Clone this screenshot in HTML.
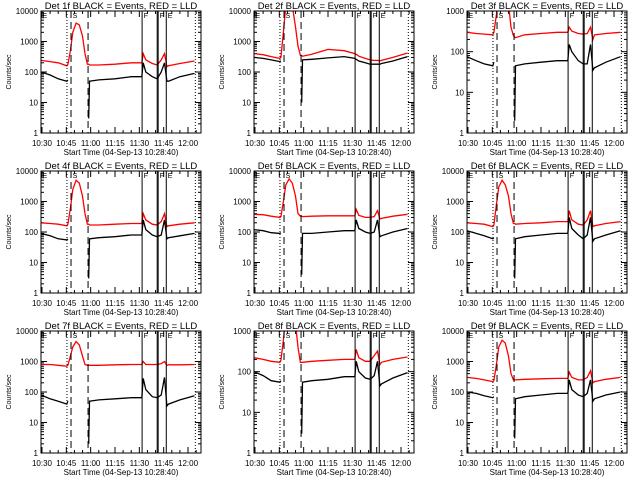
<!DOCTYPE html>
<html><head><meta charset="utf-8">
<style>
html,body{margin:0;padding:0;background:#fff;}
svg{display:block;font-family:"Liberation Sans",sans-serif;}
</style></head>
<body>
<svg id="chart" width="640" height="480" viewBox="0 0 640 480" xmlns="http://www.w3.org/2000/svg">
<rect x="0" y="0" width="640" height="480" fill="#ffffff"/>
</svg>
<script>
// time in minutes after 10:30
const times = [-0.6,5,10,15.3,16,17.5,19,21,23,25,26.5,28,28.8,29.3,35,45,55,61.5,62.4,64,68,71,73.5,75.5,77,78,85,94];
const panelTitles = ["Det 1f","Det 2f","Det 3f","Det 4f","Det 5f","Det 6f","Det 7f","Det 8f","Det 9f"];
const panelDecades = [4,4,3,4,4,4,4,3,4];
const N = null;
const blackSeries = [
 [100,80,60,50,55,N,N,N,N,N,N,N,3,50,55,60,70,70,200,100,70,60,100,200,50,50,70,90],
 [300,280,250,220,230,N,N,N,N,N,N,N,10,250,260,290,320,280,260,230,200,180,180,180,180,190,230,320],
 [75,60,50,45,55,N,N,N,N,N,N,N,2,45,50,55,60,60,150,100,60,50,50,150,35,40,55,75],
 [90,75,60,55,60,N,N,N,N,N,N,N,3,60,65,70,80,80,250,120,80,70,80,250,60,65,75,90],
 [120,110,95,90,95,N,N,N,N,N,N,N,4,90,90,100,110,110,250,130,100,90,100,250,70,75,100,130],
 [110,90,75,60,65,N,N,N,N,N,N,N,3,60,70,80,90,90,300,130,80,60,80,300,50,60,80,110],
 [80,60,50,40,50,N,N,N,N,N,N,N,2,50,55,60,65,65,280,120,70,65,80,300,35,40,55,75],
 [100,80,60,55,60,N,N,N,N,N,N,N,3,55,60,65,75,75,180,100,70,65,80,180,45,50,70,95],
 [100,90,75,65,70,N,N,N,N,N,N,N,3,60,70,80,90,90,250,120,80,70,90,250,50,60,80,100]
];
const redSeries = [
 [240,220,200,160,180,500,2000,4000,3500,1500,400,180,180,170,170,180,200,200,400,250,190,170,250,400,150,160,190,230],
 [400,370,320,280,300,2000,15000,20000,15000,3000,700,350,350,330,380,550,500,400,380,330,280,250,240,240,230,240,300,420],
 [300,280,270,260,300,800,3000,5000,4000,1500,400,250,230,220,260,280,300,300,400,320,280,270,280,400,200,260,280,300],
 [200,190,180,160,180,600,2500,5000,4000,1500,400,180,180,170,170,180,190,190,400,250,180,170,220,400,150,160,180,200],
 [380,370,330,300,320,1000,3500,5500,4000,1500,400,330,330,320,330,340,340,340,550,350,300,300,320,500,270,280,330,380],
 [200,190,180,150,170,800,3000,5000,3500,1500,400,190,190,180,190,200,220,220,500,250,180,170,250,500,150,160,190,220],
 [800,800,750,700,750,1500,3000,4500,3500,1500,800,750,750,750,750,780,800,800,1000,800,800,800,850,1000,750,780,780,800],
 [220,200,180,170,190,600,2500,5000,4000,1500,400,170,170,170,180,190,200,200,350,220,180,180,250,320,150,170,200,230],
 [300,280,250,220,240,800,3000,5000,4000,1500,400,250,250,250,260,270,280,280,450,300,250,250,300,500,200,220,260,300]
];
const xTickMinutes = [0,15,30,45,60,75,90];
const xTickLabels = ["10:30","10:45","11:00","11:15","11:30","11:45","12:00"];
const dottedLines = [15.4,94.5];
const dashedLines = [17.9,28.4];
const solidLines = [61.7,71,71.6,76.6];
const markerTimes = [-0.3,18.3,62.0,71.9,76.9];
const markerLabels = ["E","S","F","F","E"];

const svg = document.getElementById('chart');
const NS = 'http://www.w3.org/2000/svg';
function mk(tag, attrs, parent){
  const e = document.createElementNS(NS, tag);
  for (const k in attrs) e.setAttribute(k, attrs[k]);
  parent.appendChild(e);
  return e;
}
const PL=41, PR=201, PT=11, PB=133, XMIN=-0.6, XMAX=98;

for (let p=0;p<9;p++){
  const ox = (p%3)*213, oy = Math.floor(p/3)*160;
  const dec = panelDecades[p];
  const xs = t => ox + PL + (t - XMIN)/(XMAX - XMIN)*(PR-PL);
  const ys = v => oy + PB - Math.log10(v)/dec*(PB-PT);
  const g = mk('g',{},svg);
  
  
  const cid = 'clip'+p;
  const cp = mk('clipPath',{id:cid},g);
  mk('rect',{x:ox+PL,y:oy+PT,width:PR-PL,height:PB-PT},cp);

  const tt = mk('text',{x:ox+121,y:oy+9,'font-size':9.5,'text-anchor':'middle',fill:'#000'},g);
  tt.textContent = panelTitles[p]+" BLACK = Events, RED = LLD";
  
  

  for (let d=0; d<=dec; d++){
    const y = ys(Math.pow(10,d));
    const lb = mk('text',{x:ox+PL-3,y:y+3,'font-size':8,'text-anchor':'end',fill:'#000'},g);
    lb.textContent = String(Math.pow(10,d));
    
    
    mk('line',{x1:ox+PL,x2:ox+PL+6,y1:y,y2:y,stroke:'#000','stroke-width':1},g);
    mk('line',{x1:ox+PR,x2:ox+PR-6,y1:y,y2:y,stroke:'#000','stroke-width':1},g);
    if (d<dec){
      for (let m=2;m<10;m++){
        const ym = ys(m*Math.pow(10,d));
        mk('line',{x1:ox+PL,x2:ox+PL+3,y1:ym,y2:ym,stroke:'#000','stroke-width':1},g);
        mk('line',{x1:ox+PR,x2:ox+PR-3,y1:ym,y2:ym,stroke:'#000','stroke-width':1},g);
      }
    }
  }
  xTickMinutes.forEach((t,i)=>{
    const x = xs(t);
    mk('line',{x1:x,x2:x,y1:oy+PB,y2:oy+PB-6,stroke:'#000','stroke-width':1},g);
    mk('line',{x1:x,x2:x,y1:oy+PT,y2:oy+PT+6,stroke:'#000','stroke-width':1},g);
    const lb = mk('text',{x:x,y:oy+146,'font-size':8,'text-anchor':'middle',fill:'#000'},g);
    lb.textContent = xTickLabels[i];
    
    
  });
  for (let t=5;t<98;t+=5){
    if (t%15===0) continue;
    const x = xs(t);
    mk('line',{x1:x,x2:x,y1:oy+PB,y2:oy+PB-3,stroke:'#000','stroke-width':1},g);
    mk('line',{x1:x,x2:x,y1:oy+PT,y2:oy+PT+3,stroke:'#000','stroke-width':1},g);
  }
  const xt = mk('text',{x:ox+121,y:oy+155,'font-size':8,'text-anchor':'middle',fill:'#000'},g);
  xt.textContent = "Start Time (04-Sep-13 10:28:40)";
  
  
  const yt = mk('text',{x:0,y:0,'font-size':7,'text-anchor':'middle',fill:'#000',transform:`translate(${ox+11},${oy+72}) rotate(-90)`},g);
  yt.textContent = "Counts/sec";
  
  

  const inner = mk('g',{'clip-path':`url(#${cid})`},g);
  function drawSeries(vals, color, name){
    let d = '', pen = false;
    for (let i=0;i<times.length;i++){
      const v = vals[i];
      if (v===null){ pen=false; continue; }
      const x = xs(times[i]), y = ys(v);
      d += (pen?'L':'M') + x.toFixed(1) + ',' + y.toFixed(1);
      pen = true;
    }
    const path = mk('path',{d:d,fill:'none',stroke:color,'stroke-width':1.3},inner);
    
    
  }
  drawSeries(redSeries[p], '#ff0000', 'lld-red-line');
  drawSeries(blackSeries[p], '#000000', 'events-black-line');

  dottedLines.forEach(t=>{
    const l = mk('line',{x1:xs(t),x2:xs(t),y1:oy+PT,y2:oy+PB,stroke:'#000','stroke-width':1,'stroke-dasharray':'1,2'},g);
    
    
  });
  dashedLines.forEach(t=>{
    const l = mk('line',{x1:xs(t),x2:xs(t),y1:oy+PT,y2:oy+PB,stroke:'#000','stroke-width':1,'stroke-dasharray':'7,4'},g);
    
    
  });
  solidLines.forEach(t=>{
    const l = mk('line',{x1:xs(t),x2:xs(t),y1:oy+PT,y2:oy+PB,stroke:'#000','stroke-width':1},g);
    
    
  });
  markerTimes.forEach((t,i)=>{
    const m = mk('text',{x:xs(t)+1,y:oy+PT+7,'font-size':7,fill:'#000'},g);
    m.textContent = markerLabels[i];
    
    
  });
  const fr = mk('rect',{x:ox+PL,y:oy+PT,width:PR-PL,height:PB-PT,fill:'none',stroke:'#000','stroke-width':1},g);
  
  
}
</script>
</body></html>
